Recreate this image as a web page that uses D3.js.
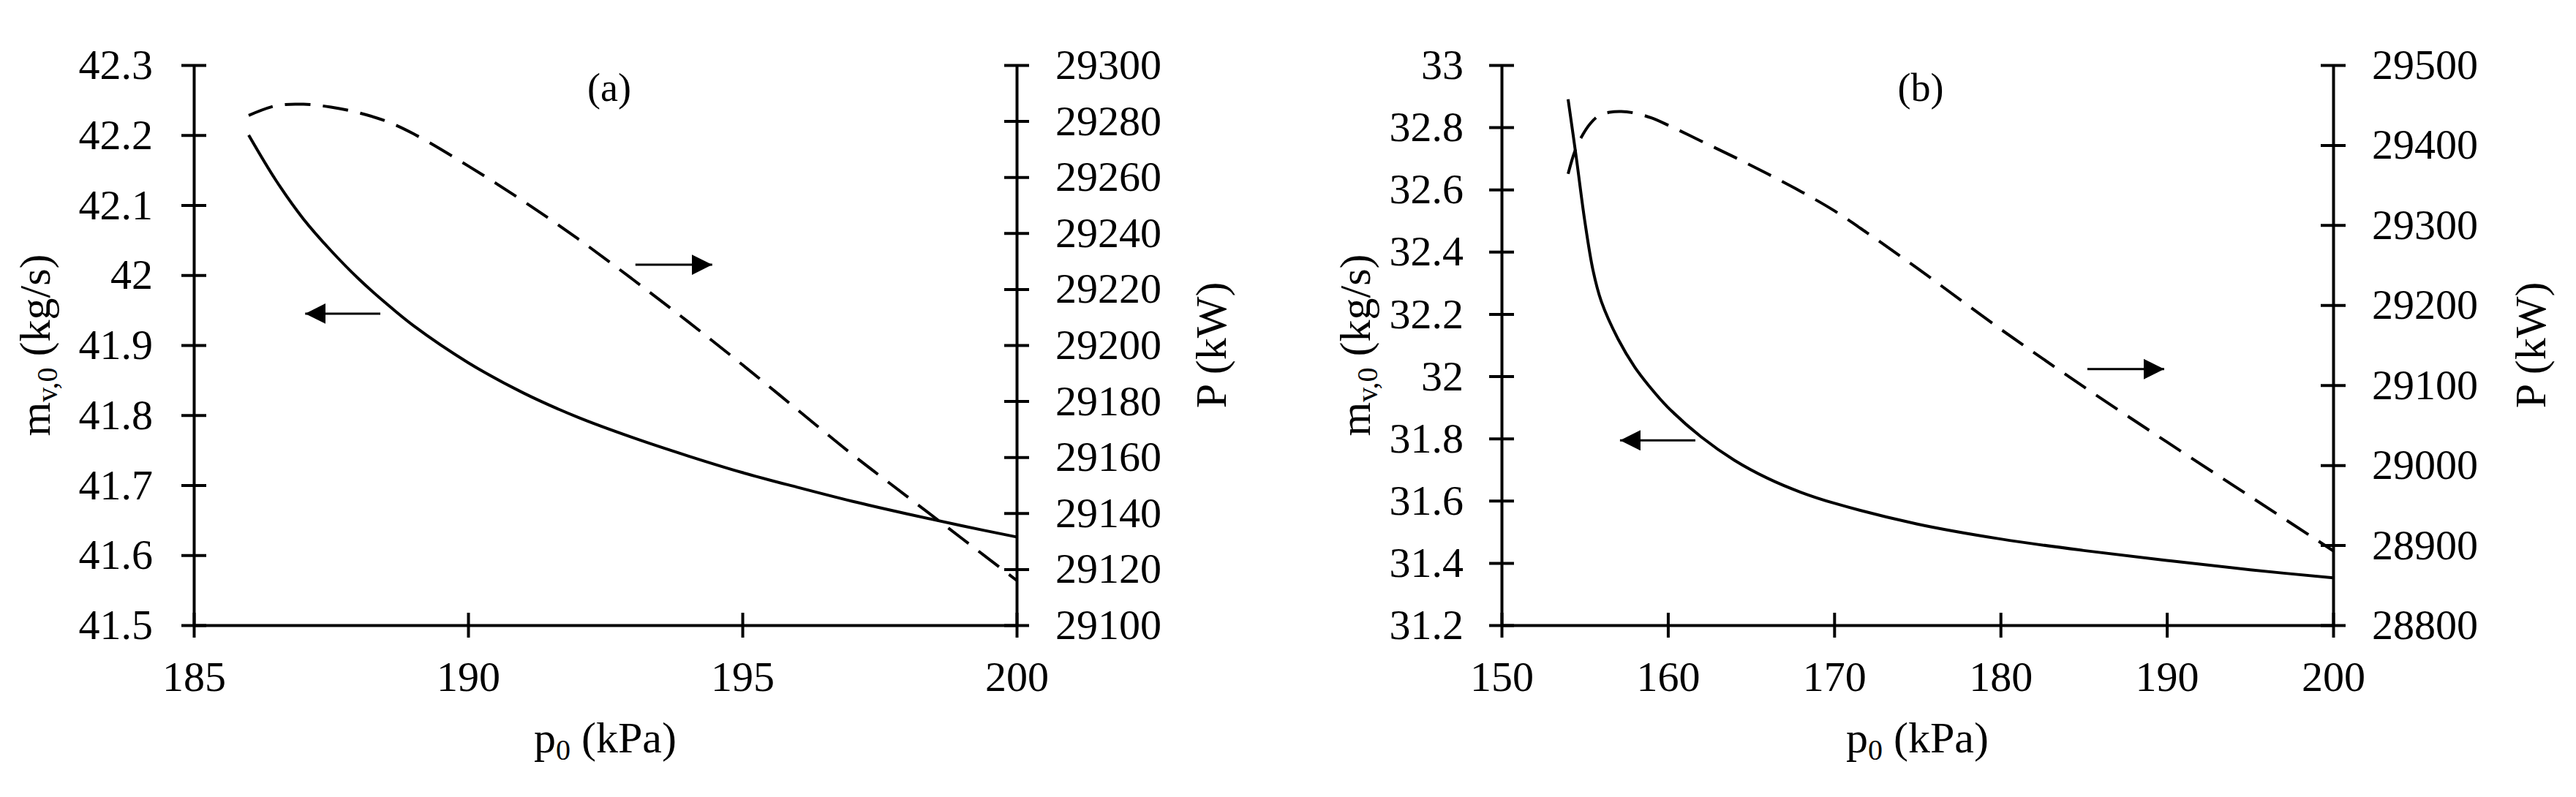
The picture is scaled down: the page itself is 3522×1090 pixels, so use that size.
<!DOCTYPE html>
<html>
<head>
<meta charset="utf-8">
<script src="https://cdn.jsdelivr.net/npm/d3@7"></script>
<style>
  html, body { margin: 0; padding: 0; background: #fff; }
  svg { display: block; }
</style>
</head>
<body>
<svg id="chart" width="3522" height="1090"></svg>
<script>
// ---------- Panel (a) data ----------
const aMassX = [186, 186.5, 187, 187.5, 188, 188.5, 189, 190, 191, 192, 193, 194, 195, 196, 197, 198, 199, 200];
const aMassY = [42.20, 42.135, 42.08, 42.035, 41.995, 41.96, 41.928, 41.875, 41.832, 41.797, 41.768, 41.742, 41.718, 41.697, 41.677, 41.659, 41.642, 41.626];
const aPowerX = [186, 186.5, 187, 187.5, 188, 188.5, 189, 190, 191, 192, 193, 194, 195, 196, 197, 198, 199, 200];
const aPowerY = [29282, 29285.5, 29286, 29285, 29283, 29280, 29275.5, 29264, 29251.5, 29238, 29223.5, 29208.5, 29193, 29177, 29161, 29146, 29131, 29116];

// ---------- Panel (b) data ----------
const bMassX = [154, 154.5, 155, 155.5, 156, 157, 158, 159, 160, 162, 164, 166, 168, 170, 175, 180, 185, 190, 195, 200];
const bMassY = [32.89, 32.70, 32.50, 32.34, 32.24, 32.12, 32.03, 31.96, 31.90, 31.805, 31.73, 31.672, 31.627, 31.592, 31.525, 31.477, 31.44, 31.408, 31.378, 31.352];
const bPowerX = [154, 154.4, 154.8, 155.3, 155.8, 156.5, 157.2, 158, 159, 160, 162, 164, 166, 168, 170, 172, 175, 180, 185, 190, 195, 200];
const bPowerY = [29364, 29392, 29410, 29426, 29436, 29441, 29442, 29440, 29434, 29425, 29405, 29385, 29364, 29342, 29318, 29290, 29246, 29170, 29098, 29029, 28961, 28893];

// ---------- Ticks ----------
const aXTicks = [185, 190, 195, 200];
const aMassTicks = [41.5, 41.6, 41.7, 41.8, 41.9, 42, 42.1, 42.2, 42.3];
const aPowerTicks = [29100, 29120, 29140, 29160, 29180, 29200, 29220, 29240, 29260, 29280, 29300];
const bXTicks = [150, 160, 170, 180, 190, 200];
const bMassTicks = [31.2, 31.4, 31.6, 31.8, 32, 32.2, 32.4, 32.6, 32.8, 33];
const bPowerTicks = [28800, 28900, 29000, 29100, 29200, 29300, 29400, 29500];

// ---------- Arrow annotations (data coords: [x1, x2, y], pointing from x1 to x2) ----------
const aArrowMass = [188.40, 187.03, 41.945];
const aArrowPower = [193.05, 194.45, 29228.7];
const bArrowMass = [161.65, 157.12, 31.794];
const bArrowPower = [185.22, 189.84, 29120];

const FONT = "'Liberation Serif', 'Times New Roman', Times, serif";
const svg = d3.select("#chart");

svg.append("defs").append("marker")
  .attr("id", "head")
  .attr("viewBox", "0 0 28 28")
  .attr("refX", 28).attr("refY", 14)
  .attr("markerWidth", 28).attr("markerHeight", 28)
  .attr("markerUnits", "userSpaceOnUse")
  .attr("orient", "auto")
  .append("path").attr("d", "M0,0L28,14L0,28Z").attr("fill", "#000");

function fmt(d) { return String(+(+d).toFixed(1)); }

function panel(cfg) {
  const x = d3.scaleLinear().domain(cfg.xDomain).range([cfg.left, cfg.right]);
  const yL = d3.scaleLinear().domain(cfg.mDomain).range([855, 89]);
  const yR = d3.scaleLinear().domain(cfg.pDomain).range([855, 89]);

  const g = svg.append("g");

  // Bottom axis
  const gx = g.append("g").attr("transform", `translate(0,855)`)
    .call(d3.axisBottom(x).tickValues(cfg.xTicks).tickFormat(d3.format("d"))
      .tickSizeInner(17).tickSizeOuter(0).tickPadding(32));
  gx.selectAll(".tick line").attr("y1", -17);

  // Left axis
  const gl = g.append("g").attr("transform", `translate(${cfg.left},0)`)
    .call(d3.axisLeft(yL).tickValues(cfg.mTicks).tickFormat(fmt)
      .tickSizeInner(17).tickSizeOuter(0).tickPadding(cfg.leftPad));
  gl.selectAll(".tick line").attr("x1", 17);

  // Right axis
  const gr = g.append("g").attr("transform", `translate(${cfg.right},0)`)
    .call(d3.axisRight(yR).tickValues(cfg.pTicks).tickFormat(d3.format("d"))
      .tickSizeInner(17).tickSizeOuter(0).tickPadding(cfg.rightPad));
  gr.selectAll(".tick line").attr("x1", -17);

  [gx, gl, gr].forEach(a => {
    a.attr("font-family", FONT).attr("font-size", 58);
    a.selectAll("line, path").attr("stroke", "#000").attr("stroke-width", 4);
    a.selectAll("text").attr("fill", "#000");
  });

  // Curves
  const curve = d3.curveCatmullRom.alpha(0.5);
  const lineM = d3.line().x(d => x(d[0])).y(d => yL(d[1])).curve(curve);
  const lineP = d3.line().x(d => x(d[0])).y(d => yR(d[1])).curve(curve);

  g.append("path").datum(d3.zip(cfg.mX, cfg.mY)).attr("d", lineM)
    .attr("fill", "none").attr("stroke", "#000").attr("stroke-width", 4);
  g.append("path").datum(d3.zip(cfg.pX, cfg.pY)).attr("d", lineP)
    .attr("fill", "none").attr("stroke", "#000").attr("stroke-width", 4)
    .attr("stroke-dasharray", "35,17");

  // Arrows
  const arrow = (a, ys) => g.append("line")
    .attr("x1", x(a[0])).attr("x2", x(a[1]))
    .attr("y1", ys(a[2])).attr("y2", ys(a[2]))
    .attr("stroke", "#000").attr("stroke-width", 3)
    .attr("marker-end", "url(#head)");
  arrow(cfg.arrowM, yL);
  arrow(cfg.arrowP, yR);

  // Panel label
  g.append("text").attr("x", cfg.labelX).attr("y", 138)
    .attr("text-anchor", "middle").attr("font-family", FONT).attr("font-size", 54)
    .text(cfg.label);

  // X title
  const xt = g.append("text").attr("x", (cfg.left + cfg.right) / 2).attr("y", 1029)
    .attr("text-anchor", "middle").attr("font-family", FONT).attr("font-size", 60);
  xt.append("tspan").text("p");
  xt.append("tspan").attr("font-size", 40).attr("dy", 10).text("0");
  xt.append("tspan").attr("dy", -10).text(" (kPa)");

  // Left Y title
  const lt = g.append("text")
    .attr("transform", `translate(${cfg.leftTitleX},472) rotate(-90)`)
    .attr("text-anchor", "middle").attr("font-family", FONT).attr("font-size", 60);
  lt.append("tspan").text("m");
  lt.append("tspan").attr("font-size", 40).attr("dy", 10).text("v,0");
  lt.append("tspan").attr("dy", -10).text(" (kg/s)");

  // Right Y title
  g.append("text")
    .attr("transform", `translate(${cfg.rightTitleX},472) rotate(-90)`)
    .attr("text-anchor", "middle").attr("font-family", FONT).attr("font-size", 60)
    .text("P (kW)");
}

panel({
  xDomain: [185, 200], mDomain: [41.5, 42.3], pDomain: [29100, 29300],
  left: 265, right: 1390, leftPad: 39, rightPad: 36,
  xTicks: aXTicks, mTicks: aMassTicks, pTicks: aPowerTicks,
  mX: aMassX, mY: aMassY, pX: aPowerX, pY: aPowerY,
  arrowM: aArrowMass, arrowP: aArrowPower,
  label: "(a)", labelX: 833, leftTitleX: 68, rightTitleX: 1676
});

panel({
  xDomain: [150, 200], mDomain: [31.2, 33], pDomain: [28800, 29500],
  left: 2053, right: 3190, leftPad: 35, rightPad: 36,
  xTicks: bXTicks, mTicks: bMassTicks, pTicks: bPowerTicks,
  mX: bMassX, mY: bMassY, pX: bPowerX, pY: bPowerY,
  arrowM: bArrowMass, arrowP: bArrowPower,
  label: "(b)", labelX: 2626, leftTitleX: 1873, rightTitleX: 3480
});
</script>
</body>
</html>
